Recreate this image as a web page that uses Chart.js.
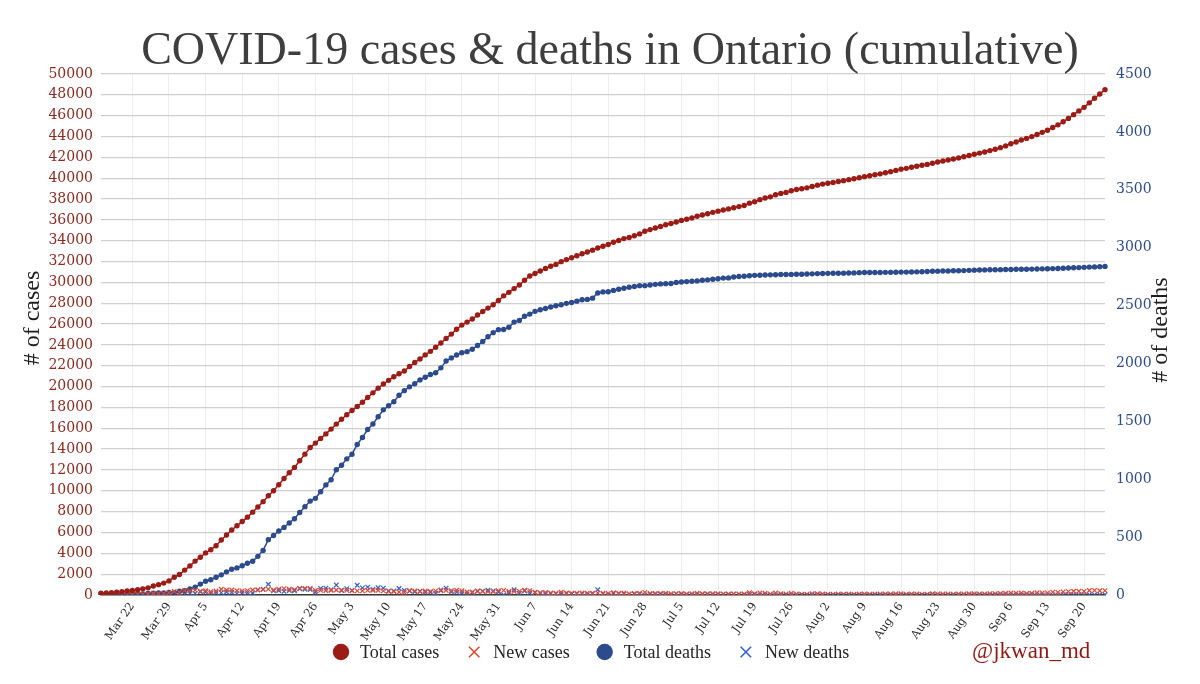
<!DOCTYPE html>
<html>
<head>
<meta charset="utf-8">
<script src="https://cdn.jsdelivr.net/npm/chart.js@4.4.0/dist/chart.umd.min.js"></script>
<style>
html,body{margin:0;padding:0;background:#ffffff;}
#wrap{position:relative;width:1200px;height:684px;}
</style>
</head>
<body>
<div id="wrap"><canvas id="c" width="1200" height="684"></canvas></div>
<script>
// ---------- DATA ----------
const START_DATE = [2020, 2, 16]; // Mar 16, 2020 (first day shown)
const MONTHS = ['Jan','Feb','Mar','Apr','May','Jun','Jul','Aug','Sep','Oct','Nov','Dec'];

const TITLE = 'COVID-19 cases & deaths in Ontario (cumulative)';
const Y_LEFT_TITLE = '# of cases';
const Y_RIGHT_TITLE = '# of deaths';
const CREDIT = '@jkwan_md';
const SERIES_NAMES = ['Total cases', 'New cases', 'Total deaths', 'New deaths'];

const totalCases = [
  // Mar 16-31
  177,185,214,258,308,377,425,503,588,688,858,993,1144,1355,1706,1966,
  // Apr
  2392,2793,3255,3630,4038,4347,4726,5276,5759,6237,6648,7049,7470,7953,8447,8961,9525,10010,10578,11184,11735,12245,12879,13519,14150,14580,15030,15460,15920,16400,
  // May
  16860,17300,17700,18100,18500,18950,19400,19850,20250,20600,20950,21236,21494,21922,22313,22653,23040,23384,23774,24187,24628,25040,25500,25904,26191,26483,26866,27210,27533,27859,28263,
  // Jun
  28709,29047,29403,29747,30202,30617,30860,31090,31341,31544,31726,31992,32189,32370,32554,32744,32917,33095,33301,33476,33637,33853,34016,34205,34316,34476,34654,34911,35068,35217,
  // Jul
  35370,35535,35656,35794,35948,36060,36178,36348,36464,36594,36723,36839,36950,37052,37163,37274,37385,37604,37739,37942,38107,38210,38405,38543,38638,38802,38910,38986,39075,39209,39333,
  // Aug
  39434,39509,39589,39680,39765,39860,39950,40046,40150,40229,40325,40418,40528,40630,40750,40870,40945,41050,41150,41240,41325,41440,41550,41650,41750,41840,41950,42060,42180,42300,42410,
  // Sep 1-24
  42520,42650,42780,42930,43100,43300,43480,43670,43820,43990,44200,44400,44600,44870,45120,45420,45740,46100,46460,46800,47230,47670,48080,48500
];

const newCases = [
  32,8,29,44,50,69,48,78,85,100,170,135,151,211,351,260,
  426,401,462,375,408,309,379,550,483,478,411,401,421,483,494,514,564,485,568,606,551,510,634,640,631,430,450,430,460,480,
  460,440,400,400,400,450,450,450,400,350,350,286,258,428,391,340,387,344,390,413,441,412,460,404,287,292,383,344,323,326,404,
  446,338,356,344,455,415,243,230,251,203,182,266,197,181,184,190,173,178,206,175,161,216,163,189,111,160,178,257,157,149,
  153,165,121,138,154,112,118,170,116,130,129,116,111,102,111,111,111,219,135,203,165,103,195,138,95,164,108,76,89,134,124,
  101,75,80,91,85,95,90,96,104,79,96,93,110,102,120,120,75,105,100,90,85,115,110,100,100,90,110,110,120,120,110,
  110,130,130,150,170,200,180,190,150,170,210,200,200,270,250,300,320,360,360,340,430,440,410,420
];

const totalDeaths = [
  1,1,2,2,2,2,6,7,8,13,15,18,18,21,23,33,
  37,53,67,94,119,132,153,174,200,222,234,253,274,291,334,385,478,514,553,584,622,659,713,763,811,835,892,951,996,1082,
  1121,1176,1216,1300,1361,1429,1477,1540,1599,1634,1669,1725,1765,1798,1825,1858,1881,1904,1919,1962,2021,2048,2073,2093,2102,2123,2155,2189,2230,2266,2292,
  2293,2312,2357,2372,2407,2426,2450,2464,2475,2487,2498,2507,2519,2527,2538,2550,2553,2564,2609,2618,2619,2631,2641,2650,2658,2665,2672,2672,2678,2683,
  2687,2689,2691,2700,2703,2707,2710,2713,2719,2722,2727,2732,2737,2739,2746,2751,2753,2757,2761,2762,2764,2765,2766,2768,2768,2769,2770,2771,2772,2774,2776,
  2777,2778,2779,2779,2780,2781,2782,2784,2785,2785,2786,2786,2787,2787,2788,2789,2789,2790,2791,2792,2794,2796,2797,2798,2799,2800,2801,2802,2804,2806,2807,
  2808,2809,2809,2810,2811,2812,2813,2813,2814,2815,2816,2817,2818,2819,2820,2822,2824,2826,2828,2830,2832,2834,2836,2838
];

const newDeaths = [
  1,0,1,0,0,0,4,1,1,5,2,3,0,3,2,10,
  4,16,14,27,25,13,21,21,26,22,12,19,21,17,43,51,93,36,39,31,38,37,54,50,48,24,57,59,45,86,
  39,55,40,84,61,68,48,63,59,35,35,56,40,33,27,33,23,23,15,43,59,27,25,20,9,21,32,34,41,36,26,
  1,19,45,15,35,19,24,14,11,12,11,9,12,8,11,12,3,11,45,9,1,12,10,9,8,7,7,0,6,5,
  4,2,2,9,3,4,3,3,6,3,5,5,5,2,7,5,2,4,4,1,2,1,1,2,0,1,1,1,1,2,2,
  1,1,1,0,1,1,1,2,1,0,1,0,1,0,1,1,0,1,1,1,2,2,1,1,1,1,1,1,2,2,1,
  1,1,0,1,1,1,1,0,1,1,1,1,1,1,1,2,2,2,2,2,2,2,2,2
];

const LEFT_MAX = 50000, LEFT_STEP = 2000;
const RIGHT_MAX = 4500, RIGHT_STEP = 500;
const FIRST_LABELED_DAY = 6; // Mar 22
const LABEL_EVERY = 7;

// category labels (one per day)
const dayLabels = [];
for (let i = 0; i < totalCases.length; i++) {
  const d = new Date(START_DATE[0], START_DATE[1], START_DATE[2] + i);
  dayLabels.push(MONTHS[d.getMonth()] + ' ' + d.getDate());
}

// ---------- STYLE ----------
const C_TOTAL_CASES = '#9b1b15';
const C_NEW_CASES = '#e2472f';
const C_TOTAL_DEATHS = '#2b4b8c';
const C_NEW_DEATHS = '#2f62cc';
const SERIF = '"Liberation Serif", "Times New Roman", serif';
const TICKFONT = '"DejaVu Serif", serif';

const PLOT_LEFT = 101, PLOT_RIGHT = 1105, PLOT_TOP = 74, PLOT_BOTTOM = 595;

const extras = {
  id: 'extras',
  afterDraw(chart) {
    const ctx = chart.ctx;
    // title
    ctx.save();
    ctx.fillStyle = '#3e3e3e';
    ctx.font = '46px ' + SERIF;
    ctx.textAlign = 'center';
    ctx.textBaseline = 'alphabetic';
    ctx.fillText(TITLE, 610, 64);
    ctx.restore();

    // axis titles (both read bottom-to-top)
    [[Y_LEFT_TITLE, 33, 318], [Y_RIGHT_TITLE, 1161, 330]].forEach(([t, x, y]) => {
      ctx.save();
      ctx.fillStyle = '#1e1e1e';
      ctx.font = '24px ' + SERIF;
      ctx.textAlign = 'center';
      ctx.textBaseline = 'middle';
      ctx.translate(x, y);
      ctx.rotate(-Math.PI / 2);
      ctx.fillText(t, 0, 0);
      ctx.restore();
    });

    // legend
    const ds = chart.data.datasets;
    ctx.save();
    ctx.font = '18px ' + SERIF;
    ctx.textBaseline = 'middle';
    ctx.textAlign = 'left';
    let x = 333;
    const ly = 652;
    ds.forEach((d) => {
      const cx = x + 8;
      if (d.pointStyle === 'circle') {
        ctx.beginPath();
        ctx.fillStyle = d.backgroundColor;
        ctx.arc(cx, ly, 8.2, 0, Math.PI * 2);
        ctx.fill();
      } else {
        ctx.strokeStyle = d.borderColor;
        ctx.lineWidth = 1.6;
        const h = 5.2;
        ctx.beginPath();
        ctx.moveTo(cx - h, ly - h); ctx.lineTo(cx + h, ly + h);
        ctx.moveTo(cx + h, ly - h); ctx.lineTo(cx - h, ly + h);
        ctx.stroke();
      }
      ctx.fillStyle = '#262626';
      ctx.fillText(d.label, x + 27, ly + 1);
      x += 27 + ctx.measureText(d.label).width + 27;
    });
    ctx.restore();

    // credit
    ctx.save();
    ctx.fillStyle = '#8e1c16';
    ctx.font = '23px ' + SERIF;
    ctx.textAlign = 'left';
    ctx.textBaseline = 'middle';
    ctx.fillText(CREDIT, 972, 652);
    ctx.restore();
  }
};

new Chart(document.getElementById('c'), {
  type: 'line',
  data: {
    labels: dayLabels,
    datasets: [
      {
        label: SERIES_NAMES[0], data: totalCases, yAxisID: 'y',
        borderColor: C_TOTAL_CASES, backgroundColor: C_TOTAL_CASES,
        borderWidth: 1.5, pointStyle: 'circle', pointRadius: 2.7,
        pointBorderWidth: 0, pointBackgroundColor: C_TOTAL_CASES, tension: 0
      },
      {
        label: SERIES_NAMES[1], data: newCases, yAxisID: 'y',
        borderColor: C_NEW_CASES, backgroundColor: C_NEW_CASES,
        borderWidth: 1.5, showLine: false, pointStyle: 'crossRot', pointRadius: 3.2,
        pointBorderWidth: 1.2, pointBorderColor: C_NEW_CASES
      },
      {
        label: SERIES_NAMES[2], data: totalDeaths, yAxisID: 'y1',
        borderColor: C_TOTAL_DEATHS, backgroundColor: C_TOTAL_DEATHS,
        borderWidth: 1.5, pointStyle: 'circle', pointRadius: 2.7,
        pointBorderWidth: 0, pointBackgroundColor: C_TOTAL_DEATHS, tension: 0
      },
      {
        label: SERIES_NAMES[3], data: newDeaths, yAxisID: 'y1',
        borderColor: C_NEW_DEATHS, backgroundColor: C_NEW_DEATHS,
        borderWidth: 1.5, showLine: false, pointStyle: 'crossRot', pointRadius: 3.2,
        pointBorderWidth: 1.2, pointBorderColor: C_NEW_DEATHS
      }
    ]
  },
  options: {
    responsive: false,
    animation: false,
    devicePixelRatio: 1,
    layout: { padding: { top: PLOT_TOP, left: 0, right: 0, bottom: 0 } },
    plugins: {
      title: { display: false },
      tooltip: { enabled: false },
      legend: { display: false }
    },
    scales: {
      x: {
        type: 'category',
        offset: false,
        grid: { color: '#ededed', lineWidth: 1, drawTicks: false },
        border: { display: true, color: '#3a3a3a', width: 1.5 },
        ticks: {
          autoSkip: false, maxRotation: 55, minRotation: 55, padding: 5,
          color: '#2a2a2a', font: { family: TICKFONT, size: 11.5 }
        },
        afterBuildTicks(scale) {
          scale.ticks = scale.ticks.filter(t => t.value >= FIRST_LABELED_DAY && (t.value - FIRST_LABELED_DAY) % LABEL_EVERY === 0);
        },
        afterFit(scale) { scale.height = 684 - PLOT_BOTTOM; }
      },
      y: {
        position: 'left', min: 0, max: LEFT_MAX,
        grid: { color: '#cfcfcf', lineWidth: 1.3, drawTicks: false },
        border: { display: false },
        ticks: {
          stepSize: LEFT_STEP, padding: 8, color: '#8a2a20',
          font: { family: TICKFONT, size: 14 },
          callback: v => String(v)
        },
        afterFit(scale) { scale.width = PLOT_LEFT; }
      },
      y1: {
        position: 'right', min: 0, max: RIGHT_MAX,
        grid: { drawOnChartArea: false, drawTicks: false },
        border: { display: false },
        ticks: {
          stepSize: RIGHT_STEP, padding: 11, color: '#2d4c88',
          font: { family: TICKFONT, size: 14 },
          callback: v => String(v)
        },
        afterFit(scale) { scale.width = 1200 - PLOT_RIGHT; }
      }
    }
  },
  plugins: [extras]
});
</script>
</body>
</html>
